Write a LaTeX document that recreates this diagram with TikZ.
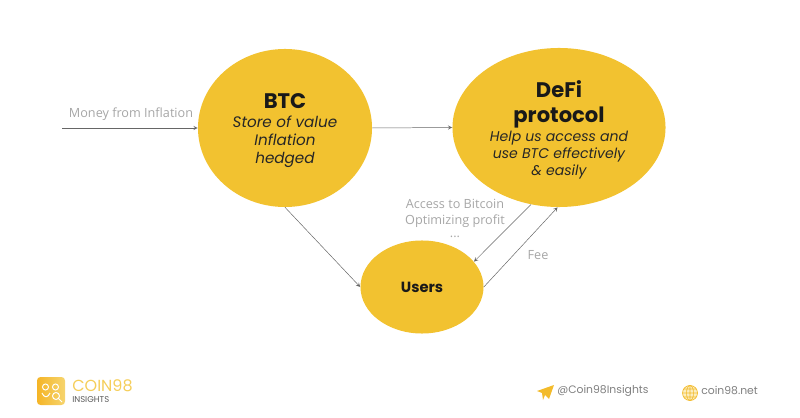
\documentclass[tikz,border=0pt]{standalone}
\usepackage{fontspec}
\setmainfont{Open Sans}
\newfontfamily\headfont{Poppins}
\usetikzlibrary{shapes.geometric}
\definecolor{coinyellow}{HTML}{F2C230}
\definecolor{labelgray}{HTML}{A6A6A6}
\definecolor{footgray}{HTML}{7F7F7F}
\tikzset{
	bubble/.style={ellipse, fill=coinyellow, inner sep=0pt},
	bubbletitle/.style={align=center, inner sep=0pt, text=black!90, font=\headfont\bfseries\fontsize{15}{17.8}\selectfont},
	bubbletext/.style 2 args={align=center, inner sep=0pt, text=black!85, font=\headfont\itshape\fontsize{#1}{#2}\selectfont},
	flow/.style={->, >=stealth, black!60, line width=0.35pt},
	flowlabel/.style={text=labelgray, font=\fontsize{9}{11.6}\selectfont, align=center, inner sep=0pt},
	foottext/.style={text=footgray, font=\headfont\fontsize{7.7}{9}\selectfont, inner sep=0pt, anchor=west}
}
\begin{document}
\begin{tikzpicture}[x=0.025cm,y=-0.025cm]
	\useasboundingbox (0,0) rectangle (800,418);
	
	% Draw the three circles
	\node[bubble, minimum width=4.35cm, minimum height=3.95cm] (btc) at (285,128) {};
	\node[bubble, minimum width=5.325cm, minimum height=3.975cm] (defi) at (559,127.5) {};
	\node[bubble, minimum width=3.075cm, minimum height=2.325cm, align=center, text=black!90, font=\headfont\bfseries\fontsize{10.5}{13}\selectfont] (users) at (422,287) {Users};
	
	% Text inside the circles
	\node[bubbletitle] (btctitle) at (285,101) {BTC};
	\node[bubbletext={10.8}{12.8}] (btctext) at (285,141.5) {Store of value\\Inflation\\hedged};
	\node[bubbletitle] (defititle) at (559,104.5) {DeFi\\protocol};
	\node[bubbletext={10}{12.1}] (defitext) at (559,155) {Help us access and\\use BTC effectively\\\&{} easily};
	
	% Draw the arrows
	\coordinate (inflow) at (62,128);
	\draw[flow] (inflow) -- (btc.west);
	\draw[flow] (btc.east) -- (defi.west);
	\draw[flow] (btc.south) -- (users.west);
	\draw[flow] (defi.250) -- (users.26);
	\draw[flow] (users.east) -- (defi.269);
	
	% Labels on the arrows
	\node[flowlabel] (moneylabel) at (131,114.5) {Money from Inflation};
	\node[flowlabel, anchor=north] (accesslabel) at (455,198.5) {Access to Bitcoin\\Optimizing profit\\[-2pt]...};
	\node[flowlabel] (feelabel) at (538,255) {Fee};
	
	% Logo at the bottom left
	\shade[left color=coinyellow!80!orange, right color=coinyellow!70!white, rounded corners=2.5pt] (37,377) rectangle (65,405);
	\draw[white, line width=0.7pt] (45.5,387) circle (3) (55.5,387) circle (3);
	\draw[white, line width=0.7pt] (42,393) .. controls (44,398) and (48,398) .. (50,393);
	\draw[white, line width=0.7pt] (56,396) circle (3.5) (58.5,398.5) -- (62,402);
	\node[text=coinyellow!80!white, font=\headfont\fontsize{11.4}{13}\selectfont, inner sep=0pt, anchor=south west] (cointext) at (72,392.5) {COIN98};
	\node[text=footgray!70!black, font=\headfont\fontsize{6}{7}\selectfont, inner sep=0pt, anchor=north west] (insightstext) at (72,396.5) {INSIGHTS};
	
	% Footer at the bottom right
	\fill[coinyellow!90!orange] (537,391) -- (554,385) -- (549,399) -- (545,395) -- (543,400) -- (542,393) -- cycle;
	\node[foottext] (telegramtext) at (557,390.5) {@Coin98Insights};
	\draw[coinyellow!90!orange, fill=coinyellow!30!white, line width=0.5pt] (690,393) circle (7.5);
	\draw[coinyellow!90!orange, line width=0.4pt] (690,393) ellipse (3.5 and 7.5) (682.5,393) -- (697.5,393) (683.5,389) -- (696.5,389) (683.5,397) -- (696.5,397) (690,385.5) -- (690,400.5);
	\node[foottext] (webtext) at (701,390.5) {coin98.net};
\end{tikzpicture}
\end{document}
